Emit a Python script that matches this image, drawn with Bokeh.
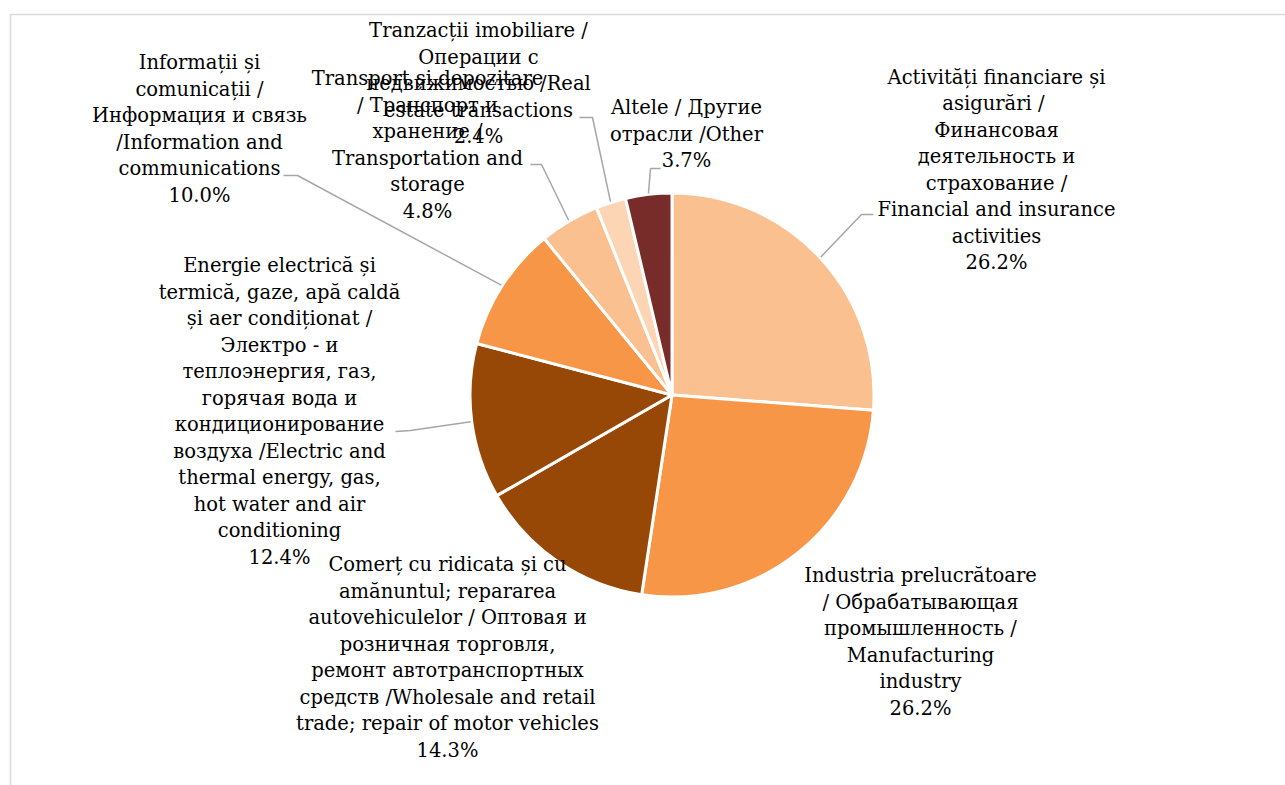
import math
from bokeh.plotting import figure
from bokeh.models import Range1d, ColumnDataSource
from bokeh.core.properties import value
from bokeh.embed import file_html
from bokeh.resources import INLINE

# ---- data ----
categories = [
    "Financial and insurance activities",
    "Manufacturing industry",
    "Wholesale and retail trade",
    "Electric and thermal energy",
    "Information and communications",
    "Transportation and storage",
    "Real estate transactions",
    "Other",
]
shares = [26.2, 26.2, 14.3, 12.4, 10.0, 4.8, 2.4, 3.7]
label_lines = [
    ["Activități financiare și", "asigurări  /", "Финансовая", "деятельность и",
     "страхование /", "Financial and insurance", "activities"],
    ["Industria prelucrătoare", "/ Обрабатывающая", "промышленность /",
     "Manufacturing", "industry"],
    ["Comerț cu ridicata și cu", "amănuntul; repararea", "autovehiculelor / Оптовая и",
     "розничная торговля,", "ремонт автотранспортных", "средств /Wholesale and retail",
     "trade; repair of motor vehicles"],
    ["Energie electrică și", "termică, gaze, apă caldă", "și aer condiționat /",
     "Электро - и", "теплоэнергия, газ,", "горячая вода и", "кондиционирование",
     "воздуха /Electric and", "thermal energy, gas,", "hot water and air", "conditioning"],
    ["Informații și", "comunicații /", "Информация и связь", "/Information and",
     "communications"],
    ["Transport și depozitare", "/ Транспорт и", "хранение /", "Transportation and",
     "storage"],
    ["Tranzacții imobiliare /", "Операции с", "недвижимостью /Real", "estate transactions"],
    ["Altele / Другие", "отрасли /Other"],
]
colors = ["#FAC090", "#F79646", "#974706", "#974706", "#F79646", "#FAC090", "#FCD5B5", "#772C2A"]

# ---- layout (screen pixel coordinates, y down) ----
W, H = 1285, 785
CX, CY, R = 671.5, 394.5, 202
FONT = "DejaVu Serif"
FS = 19.5
LINE_H = 26.5
# label anchor: (center x, first-line y)
label_anchor = [(996, 76.5), (920, 575), (447, 564), (279, 265),
                (199, 62), (427, 78), (478, 30), (686, 107)]
# leader elbows: list of points from label side toward pie (None = no leader)
leader_elbow = [
    [(873, 214), (861, 214)],
    None,
    None,
    [(395, 431), (410, 430)],
    [(283, 175), (297, 175)],
    [(530, 164), (541, 164)],
    [(579, 117), (592, 117)],
    [(660, 168), (650, 168)],
]

p = figure(width=W, height=H, output_backend="svg", toolbar_location=None,
           x_range=Range1d(0, W), y_range=Range1d(-H, 0),
           min_border=0)
p.axis.visible = False
p.grid.visible = False
p.outline_line_color = None
p.background_fill_color = "white"

# chart area border (clipped)
p.line(x=[10, 10, W], y=[-H, -14, -14], line_color="#D9D9D9", line_width=1.5)

total = sum(shares)
starts, ends, mids = [], [], []
cum = 0.0
for s in shares:
    a0 = math.pi / 2 - 2 * math.pi * cum / total
    cum += s
    a1 = math.pi / 2 - 2 * math.pi * cum / total
    starts.append(a0)
    ends.append(a1)
    mids.append((a0 + a1) / 2)

src = ColumnDataSource(dict(start=starts, end=ends, color=colors, cat=categories))
p.wedge(x=CX, y=-CY, radius=R, start_angle="start", end_angle="end",
        direction="clock", fill_color="color", line_color="white", line_width=3,
        source=src)

# leader lines
for i, elb in enumerate(leader_elbow):
    if elb is None:
        continue
    ex = CX + (R + 1) * math.cos(mids[i])
    ey = -CY + (R + 1) * math.sin(mids[i])
    xs = [pt[0] for pt in elb] + [ex]
    ys = [-pt[1] for pt in elb] + [ey]
    p.line(x=xs, y=ys, line_color="#A6A6A6", line_width=1.5)

# labels
tx, ty, tt = [], [], []
for i, lines in enumerate(label_lines):
    full = lines + ["%.1f%%" % shares[i]]
    ax, ay = label_anchor[i]
    for k, ln in enumerate(full):
        tx.append(ax)
        ty.append(-(ay + k * LINE_H))
        tt.append(ln)
p.text(x=tx, y=ty, text=tt, text_font=value(FONT), text_font_size="%.1fpx" % FS,
       text_align="center", text_baseline="middle", text_color="#000000")

open("out.html", "w").write(file_html(p, INLINE))
